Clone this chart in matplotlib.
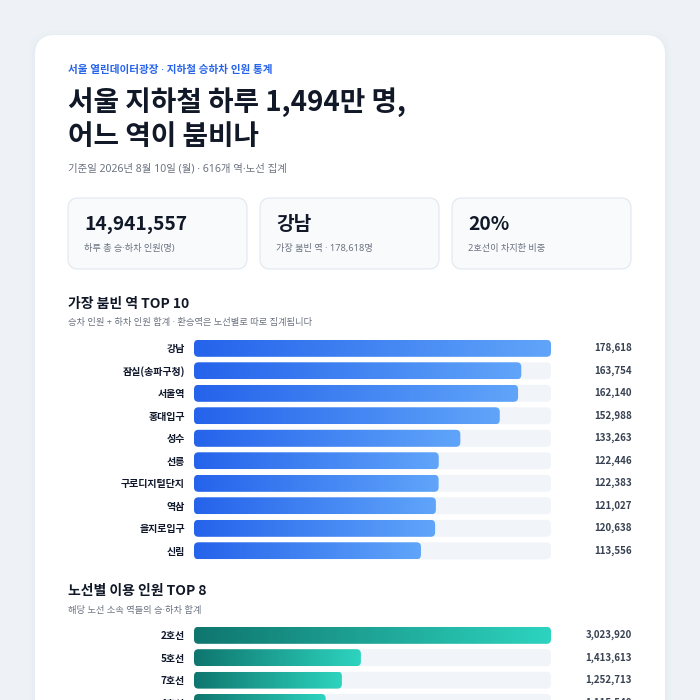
import numpy as np
import matplotlib
matplotlib.use('Agg')
import matplotlib.pyplot as plt
from matplotlib.patches import FancyBboxPatch
from matplotlib.colors import LinearSegmentedColormap
from matplotlib.transforms import blended_transform_factory

plt.rcParams['font.family'] = ['Noto Sans CJK KR', 'DejaVu Sans']
DOT_FONT = ['Noto Sans', 'Noto Sans CJK KR', 'DejaVu Sans']  # 가운뎃점을 좁게

# 데이터
station_names = ['강남', '잠실(송파구청)', '서울역', '홍대입구', '성수', '선릉',
                 '구로디지털단지', '역삼', '을지로입구', '신림']
station_riders = [178618, 163754, 162140, 152988, 133263, 122446,
                  122383, 121027, 120638, 113556]
line_names = ['2호선', '5호선', '7호선', '4호선']
line_riders = [3023920, 1413613, 1252713, 1115548]

kpi_values = ['14,941,557', '강남', '20%']
kpi_labels = ['하루 총 승·하차 인원(명)', '가장 붐빈 역 · 178,618명', '2호선이 차지한 비중']

# 색
BG = '#eef2f7'
INK = '#111827'
GRAY = '#6b7280'
TRACK = '#f1f5f9'
blue_cmap = LinearSegmentedColormap.from_list('blue', ['#2563eb', '#60a5fa'])
teal_cmap = LinearSegmentedColormap.from_list('teal', ['#0f766e', '#2dd4bf'])

fig = plt.figure(figsize=(7, 7), dpi=100)
fig.patch.set_facecolor(BG)

bg = fig.add_axes([0, 0, 1, 1])
bg.set_xlim(0, 700)
bg.set_ylim(700, 0)
bg.axis('off')

# 카드 (그림자 살짝)
for k, a in [(6, 0.025), (3, 0.03)]:
    bg.add_patch(FancyBboxPatch((35 - k, 35 - k + 2), 630 + 2 * k, 720, boxstyle='round,pad=0,rounding_size=22',
                                fc='#94a3b8', ec='none', alpha=a))
bg.add_patch(FancyBboxPatch((35, 35), 630, 720, boxstyle='round,pad=0,rounding_size=20',
                            fc='white', ec='none'))

# 헤더
bg.text(68, 71, '서울 열린데이터광장 · 지하철 승하차 인원 통계', color='#2563eb',
        fontsize=7.6, fontweight='bold', va='center', family=DOT_FONT)
bg.text(68, 102, '서울 지하철 하루 1,494만 명,', color=INK, fontsize=20,
        fontweight='heavy', va='center')
bg.text(68, 137, '어느 역이 붐비나', color=INK, fontsize=20,
        fontweight='heavy', va='center')
bg.text(68, 169, '기준일 2026년 8월 10일 (월) · 616개 역·노선 집계', color=GRAY,
        fontsize=7.5, va='center', family=DOT_FONT)

# KPI 카드
card_x = [68, 260, 452]
for cx, v, lab in zip(card_x, kpi_values, kpi_labels):
    bg.add_patch(FancyBboxPatch((cx, 198), 179, 71, boxstyle='round,pad=0,rounding_size=10',
                                fc='#f8fafc', ec='#e2e8f0', lw=0.8))
    bg.text(cx + 16, 225, v, color=INK, fontsize=13.8, fontweight='heavy', va='center')
    bg.text(cx + 16, 248, lab, color=GRAY, fontsize=6.6, va='center', family=DOT_FONT)

# 섹션 제목
bg.text(68, 304, '가장 붐빈 역 TOP 10', color=INK, fontsize=10, fontweight='bold', va='center')
bg.text(68, 322, '승차 인원 + 하차 인원 합계 · 환승역은 노선별로 따로 집계됩니다',
        color=GRAY, fontsize=6.7, va='center', family=DOT_FONT)
bg.text(68, 591, '노선별 이용 인원 TOP 8', color=INK, fontsize=10, fontweight='bold', va='center')
bg.text(68, 610, '해당 노선 소속 역들의 승·하차 합계', color=GRAY, fontsize=6.7, va='center',
        family=DOT_FONT)

grad = np.linspace(0, 1, 256).reshape(1, -1)


def bar_panel(top_px, row_px, names, vals, cmap):
    n = len(vals)
    left_px, width_px = 194, 357
    ax = fig.add_axes([left_px / 700, 1 - (top_px + n * row_px) / 700,
                       width_px / 700, n * row_px / 700])
    ax.patch.set_alpha(0)
    vmax = max(vals)
    h = 17 / row_px
    tracks = ax.barh(range(n), [vmax] * n, height=h, color='none')
    bars = ax.barh(range(n), vals, height=h, color='none')
    r = 4.5 * vmax / width_px
    asp = (1 / row_px) / (vmax / width_px)
    for t in tracks:
        ax.add_patch(FancyBboxPatch((t.get_x(), t.get_y()), t.get_width(), t.get_height(),
                                    boxstyle=f'round,pad=0,rounding_size={r}', mutation_aspect=asp,
                                    fc=TRACK, ec='none', zorder=1))
    for b in bars:
        p = FancyBboxPatch((b.get_x(), b.get_y()), b.get_width(), b.get_height(),
                           boxstyle=f'round,pad=0,rounding_size={r}', mutation_aspect=asp,
                           fc='none', ec='none', zorder=2)
        ax.add_patch(p)
        im = ax.imshow(grad, cmap=cmap, aspect='auto', interpolation='bicubic', zorder=2,
                       extent=(b.get_x(), b.get_x() + b.get_width(),
                               b.get_y() + b.get_height(), b.get_y()))
        im.set_clip_path(p)
    ax.set_xlim(0, vmax)
    ax.set_ylim(n - 0.5, -0.5)
    ax.set_yticks(range(n), names, fontsize=7.2, fontweight='bold', color='#0f172a')
    ax.set_xticks([])
    ax.tick_params(axis='y', length=0, pad=6.5)
    for s in ax.spines.values():
        s.set_visible(False)
    tr = blended_transform_factory(ax.transAxes, ax.transData)
    for i, v in enumerate(vals):
        ax.text((632 - left_px) / width_px, i, f'{v:,}', transform=tr, ha='right', va='center',
                fontsize=7, fontweight='bold', color='#374151', clip_on=False)
    return ax


bar_panel(348.3 - 11.25, 22.5, station_names, station_riders, blue_cmap)
bar_panel(635.3 - 11.2, 22.4, line_names, line_riders, teal_cmap)

fig.savefig('out.png', dpi=100, facecolor=BG)
